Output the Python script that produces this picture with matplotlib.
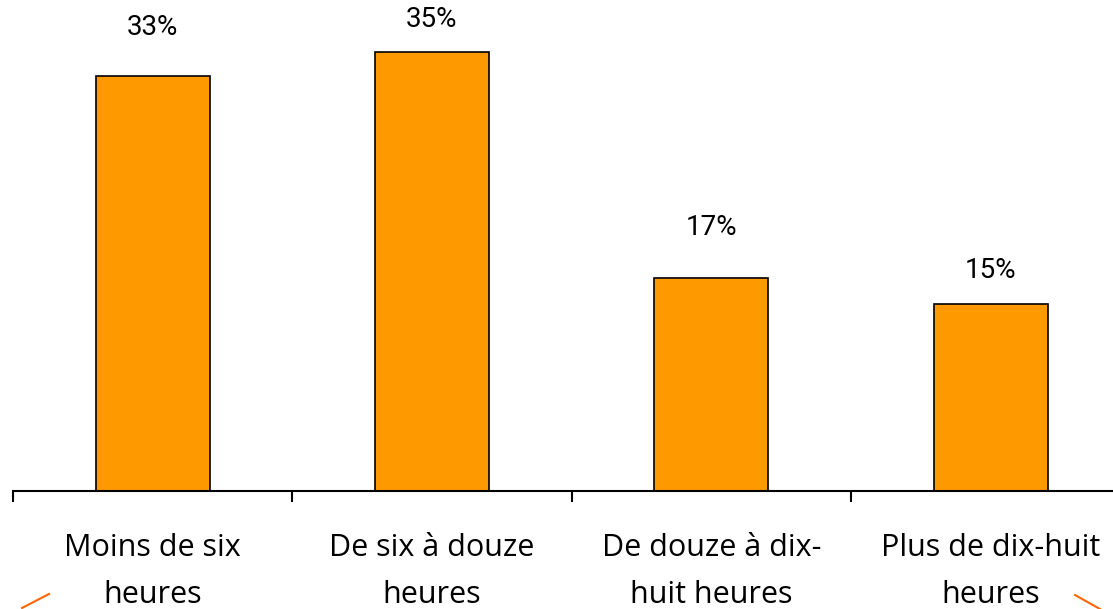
import matplotlib
matplotlib.use("Agg")
import matplotlib.pyplot as plt
from matplotlib.lines import Line2D

categories = ["Moins de six\nheures", "De six à douze\nheures", "De douze à dix-\nhuit heures", "Plus de dix-huit\nheures"]
values = [33.1, 35.0, 17.0, 14.9]
value_labels = ["33%", "35%", "17%", "15%"]
label_offsets_px = [48, 32, 50, 34]

W, H, DPI = 1113, 609, 100
fig = plt.figure(figsize=(W / DPI, H / DPI), dpi=DPI)
ax_left = 13 / W
ax_width = 4 * 279.3 / W
ax_bottom = (H - 491) / H
ax_height = 491 / H
ax = fig.add_axes([ax_left, ax_bottom, ax_width, ax_height])

x = list(range(len(categories)))
ax.bar(x, values, width=0.408, color="#FF9900", edgecolor="black", linewidth=1.2, zorder=2)
ax.set_xlim(-0.5, len(categories) - 0.5)
ax.set_ylim(0, 491 / 12.55)

for xi, v, lab, off in zip(x, values, value_labels, label_offsets_px):
    ax.annotate(lab, (xi, v), xytext=(0, off * 72 / DPI), textcoords="offset points",
                ha="center", va="center", fontsize=20, family="Roboto", color="black")

for s in ["left", "right", "top"]:
    ax.spines[s].set_visible(False)
ax.spines["bottom"].set_linewidth(1.5)
ax.set_yticks([])
ax.set_xticks([i - 0.5 for i in range(len(categories) + 1)])
ax.set_xticklabels([])
ax.tick_params(axis="x", which="major", direction="out", length=8, width=1.5)
ax.set_xticks(x, minor=True)
ax.set_xticklabels(categories, minor=True, fontsize=22, family="Open Sans", linespacing=1.75)
ax.tick_params(axis="x", which="minor", length=0, pad=30)

fig.add_artist(Line2D([22 / W, 49 / W], [1 - 608 / H, 1 - 594 / H], color="#FF6600", lw=1.5))
fig.add_artist(Line2D([1075 / W, 1100 / W], [1 - 595 / H, 1 - 609 / H], color="#FF6600", lw=1.5))

fig.savefig("out.png", dpi=DPI)
